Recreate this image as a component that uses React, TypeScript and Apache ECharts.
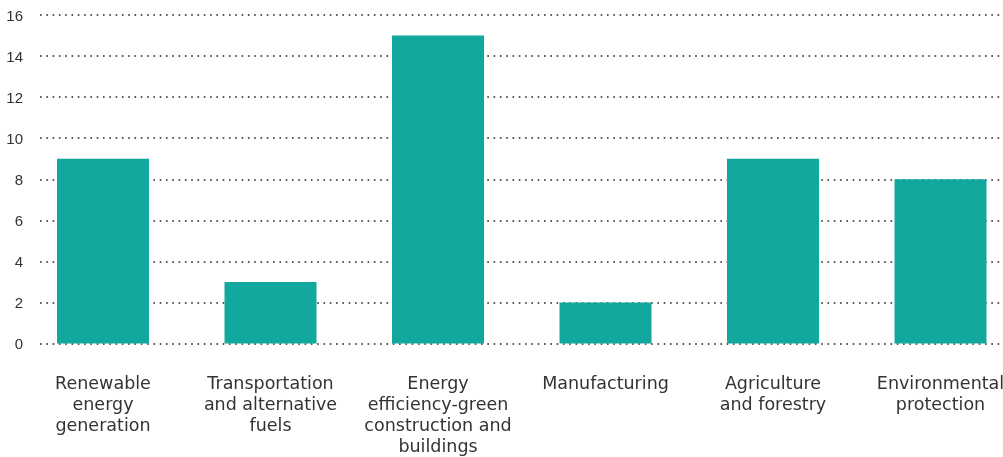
import React, { useEffect, useRef } from "react";
import * as echarts from "echarts";

const categories = [
  "Renewable\nenergy\ngeneration",
  "Transportation\nand alternative\nfuels",
  "Energy\nefficiency-green\nconstruction and\nbuildings",
  "Manufacturing",
  "Agriculture\nand forestry",
  "Environmental\nprotection",
];
const values = [9, 3, 15, 2, 9, 8];
const yTicks = { min: 0, max: 16, interval: 2 };

const FONT = "'DejaVu Sans', sans-serif";
const TEXT = "#333333";
const BAR = "#12a89d";
const W = 1040;

export default function App() {
  const ref = useRef<HTMLDivElement>(null);
  useEffect(() => {
    if (!ref.current) return;
    const chart = echarts.init(ref.current, undefined, { renderer: "svg" });
    const top = 15;
    const bottom = 113.5;
    chart.setOption({
      animation: false,
      grid: [
        { left: 40, right: W - 1003, top, bottom },
        { left: 19.25, width: 1005, top, bottom },
      ],
      xAxis: [
        { type: "category", gridIndex: 0, data: categories, show: false },
        {
          type: "category",
          gridIndex: 1,
          data: categories,
          axisLine: { show: false },
          axisTick: { show: false },
          axisLabel: {
            color: TEXT,
            fontFamily: FONT,
            fontSize: 17.5,
            lineHeight: 21,
            margin: 29,
            interval: 0,
            verticalAlign: "top",
          },
        },
      ],
      yAxis: [
        {
          type: "value",
          gridIndex: 0,
          ...yTicks,
          axisLine: { show: false },
          axisTick: { show: false },
          axisLabel: {
            color: TEXT,
            fontFamily: "'Liberation Sans', sans-serif",
            fontSize: 15,
            margin: 17,
          },
          splitLine: {
            show: true,
            lineStyle: { color: "#222", width: 1.6, type: [1.6, 4.7], cap: "butt" },
          },
        },
        {
          type: "value",
          gridIndex: 1,
          ...yTicks,
          show: false,
          splitLine: { show: false },
        },
      ],
      series: [
        {
          type: "bar",
          xAxisIndex: 1,
          yAxisIndex: 1,
          data: values,
          barWidth: 92,
          itemStyle: { color: BAR },
          z: 3,
        },
      ],
    });
    return () => chart.dispose();
  }, []);
  return (
    <div style={{ position: "fixed", left: 0, top: 0, width: 1003, height: 457, overflow: "hidden" }}>
      <div ref={ref} style={{ width: W, height: 457 }} />
    </div>
  );
}
